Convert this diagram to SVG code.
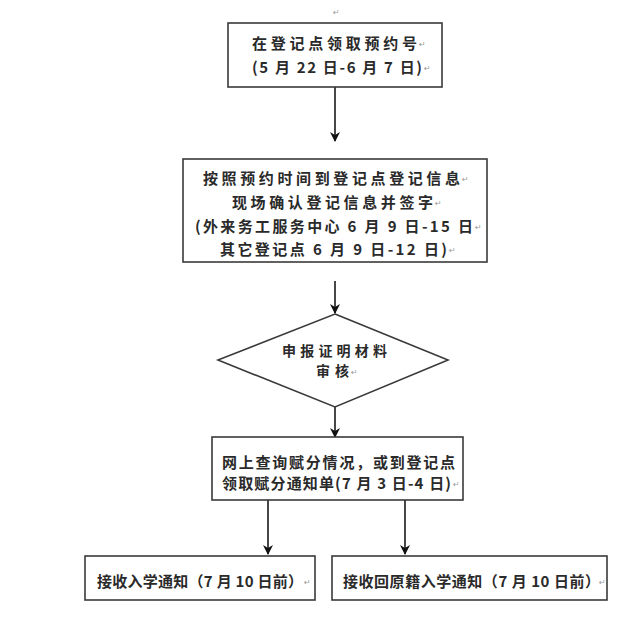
<svg xmlns="http://www.w3.org/2000/svg" width="640" height="623" viewBox="0 0 640 623">
<style>
.box{fill:#fff;stroke:#3a3a3a;stroke-width:1.6}
.t{font-family:"Noto Sans CJK SC","Noto Sans CJK TC",sans-serif;font-size:15px;font-weight:bold;fill:#2a2a2a}
.td{font-size:14px}
.pm{font-family:"DejaVu Sans",sans-serif;font-size:8px;fill:#999}
.ln{stroke:#1a1a1a;stroke-width:1.6;fill:none}
</style>
<defs>
<marker id="ah" viewBox="0 0 10 10" refX="9" refY="5" markerWidth="10" markerHeight="10" markerUnits="userSpaceOnUse" orient="auto">
<path d="M0,0 L10,5 L0,10 L3,5 Z" fill="#111"/>
</marker>
</defs>
<rect width="640" height="623" fill="#fff"/>
<g id="connectors">
<line class="ln" x1="335" y1="87" x2="335" y2="141" marker-end="url(#ah)"/>
<line class="ln" x1="335" y1="281" x2="335" y2="313" marker-end="url(#ah)"/>
<line class="ln" x1="335" y1="407" x2="335" y2="437" marker-end="url(#ah)"/>
<line class="ln" x1="268" y1="500" x2="268" y2="554" marker-end="url(#ah)"/>
<line class="ln" x1="405" y1="500" x2="405" y2="554" marker-end="url(#ah)"/>
</g>
<g id="n1">
<rect class="box" x="228" y="23" width="214" height="64"/>
<text class="t" x="252" y="48.5" textLength="165" lengthAdjust="spacing">在登记点领取预约号</text>
<text class="t" x="252" y="72.5" textLength="170" lengthAdjust="spacing">(5 月 22 日-6 月 7 日)</text>
<text class="pm" x="419" y="47">↵</text>
<text class="pm" x="424" y="71">↵</text>
<text class="pm" x="333" y="15">↵</text>
</g>
<g id="n2">
<rect class="box" x="183" y="159" width="304" height="103"/>
<text class="t" x="203" y="183.5" textLength="257" lengthAdjust="spacing">按照预约时间到登记点登记信息</text>
<text class="t" x="232" y="207.5" textLength="201" lengthAdjust="spacing">现场确认登记信息并签字</text>
<text class="t" x="195" y="231.5" textLength="278" lengthAdjust="spacing">(外来务工服务中心 6 月 9 日-15 日</text>
<text class="t" x="220" y="254.5" textLength="227" lengthAdjust="spacing">其它登记点 6 月 9 日-12 日)</text>
<text class="pm" x="462" y="182">↵</text>
<text class="pm" x="435" y="206">↵</text>
<text class="pm" x="475" y="230">↵</text>
<text class="pm" x="449" y="253">↵</text>
</g>
<g id="n3">
<polygon class="box" points="335,314 448,360 335,407 218,360"/>
<text class="t td" x="282" y="356" textLength="105" lengthAdjust="spacing">申报证明材料</text>
<text class="t td" x="316" y="376" textLength="33" lengthAdjust="spacing">审核</text>
<text class="pm" x="351" y="375">↵</text>
</g>
<g id="n4">
<rect class="box" x="212" y="437" width="251" height="63"/>
<text class="t" x="222" y="467.5" textLength="233" lengthAdjust="spacing">网上查询赋分情况，或到登记点</text>
<text class="t" x="222" y="488.5" textLength="229" lengthAdjust="spacing">领取赋分通知单(7 月 3 日-4 日)</text>
<text class="pm" x="453" y="487">↵</text>
</g>
<g id="n5">
<rect class="box" x="85" y="556" width="230" height="44"/>
<text class="t" x="97" y="586.5" textLength="206" lengthAdjust="spacing">接收入学通知（7 月 10 日前）</text>
<text class="pm" x="304" y="585">↵</text>
</g>
<g id="n6">
<rect class="box" x="332" y="556" width="275" height="44"/>
<text class="t" x="343" y="586.5" textLength="257" lengthAdjust="spacing">接收回原籍入学通知（7 月 10 日前）</text>
<text class="pm" x="599" y="585">↵</text>
</g>
</svg>
